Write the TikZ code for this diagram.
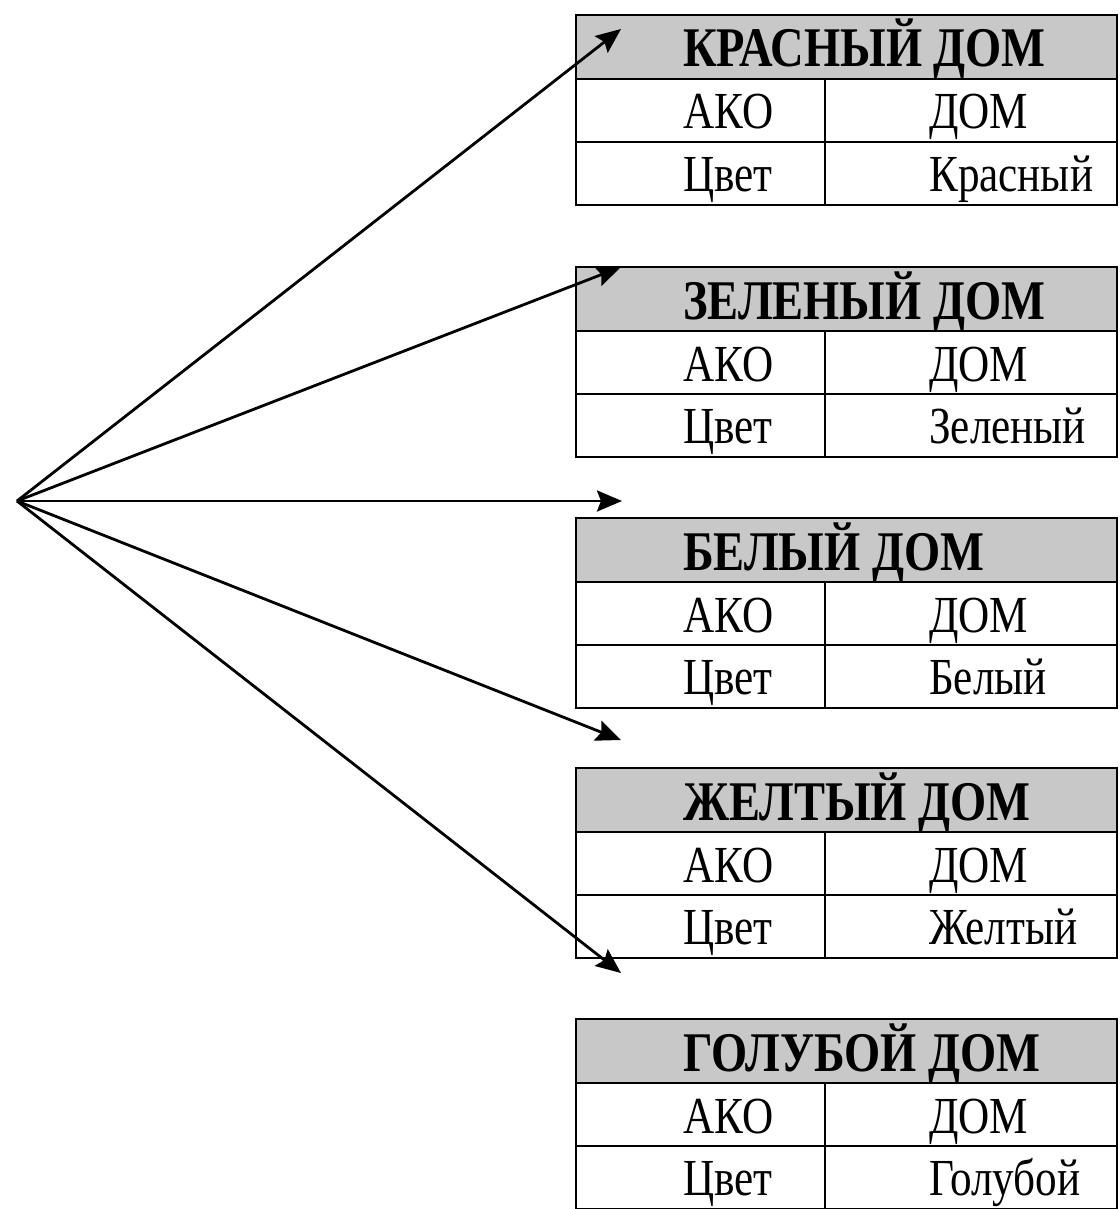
\documentclass[tikz,border=0pt]{standalone}
\usepackage{fontspec}
\setmainfont{Liberation Serif}[FakeStretch=0.83]
\usetikzlibrary{arrows.meta}
\definecolor{headgray}{RGB}{200,200,200}

% one frame card: #1 name, #2 top edge, #3 title, #4 colour value
\newcommand{\housecard}[4]{%
  \node[cellbox,fill=headgray,minimum height=64pt,minimum width=541pt] (#1-head) at (576,#2) {};
  \node[cellbox,minimum height=63pt,minimum width=249pt] (#1-k1) at (576,#2+64) {};
  \node[cellbox,minimum height=63pt,minimum width=292pt] (#1-v1) at (825,#2+64) {};
  \node[cellbox,minimum height=63pt,minimum width=249pt] (#1-k2) at (576,#2+127) {};
  \node[cellbox,minimum height=63pt,minimum width=292pt] (#1-v2) at (825,#2+127) {};
  \node[headtext] (#1-title) at (683,#2+52) {#3};
  \node[celltext] (#1-ako) at (683,#2+114) {АКО};
  \node[celltext] (#1-dom) at (929,#2+114) {ДОМ};
  \node[celltext] (#1-key) at (683,#2+176) {Цвет};
  \node[celltext] (#1-val) at (929,#2+176) {#4};
}

\begin{document}
\begin{tikzpicture}[x=1pt,y=-1pt,
  cellbox/.style={draw=black,line width=2.8pt,anchor=north west,inner sep=0,outer sep=0},
  headtext/.style={anchor=base west,inner sep=0,font=\fontsize{56}{60}\selectfont\bfseries},
  celltext/.style={anchor=base west,inner sep=0,font=\fontsize{52}{56}\selectfont},
  link/.style={line width=2.8pt,-{Stealth[length=25pt,width=21pt,inset=4pt]}}]
  \useasboundingbox (0,0) rectangle (1119,1209);

  \housecard{red}{15}{КРАСНЫЙ ДОМ}{Красный}
  \housecard{green}{267}{ЗЕЛЕНЫЙ ДОМ}{Зеленый}
  \housecard{white}{518}{БЕЛЫЙ ДОМ}{Белый}
  \housecard{yellow}{768}{ЖЕЛТЫЙ ДОМ}{Желтый}
  \housecard{blue}{1019}{ГОЛУБОЙ ДОМ}{Голубой}

  % fan of arrows from the common origin
  \coordinate (hub) at (17,501);
  \coordinate (tip1) at (621,29);
  \coordinate (tip2) at (621,267);
  \coordinate (tip3) at (622,501);
  \coordinate (tip4) at (621,740);
  \coordinate (tip5) at (621,973);
  \foreach \t in {1,...,5}
    \draw[link] (hub) -- (tip\t);
\end{tikzpicture}
\end{document}
